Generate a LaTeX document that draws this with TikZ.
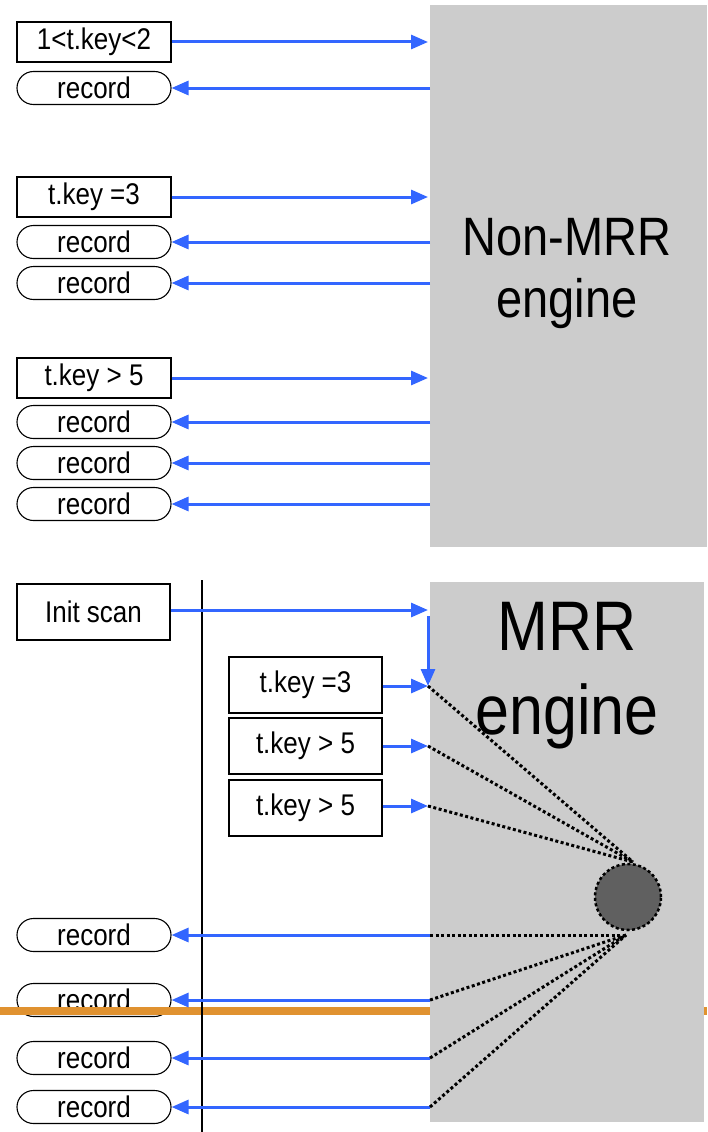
\documentclass[tikz,border=0pt]{standalone}
\usepackage{fontspec}
\setmainfont{Liberation Sans}
\usetikzlibrary{arrows.meta}
\definecolor{myblue}{RGB}{51,102,255}
\definecolor{gbox}{RGB}{204,204,204}
\definecolor{dball}{RGB}{96,96,96}
\definecolor{orng}{RGB}{224,146,48}
\newcommand{\tall}[1]{\scalebox{1}[1.15]{#1}}
\tikzset{
  lbl/.style={font=\fontsize{26}{30}\selectfont, inner sep=0pt},
  sq/.style={lbl, draw, line width=1.2pt, fill=white, minimum width=154pt, minimum height=40pt},
  sqtall/.style={sq, minimum width=153pt, minimum height=56pt},
  rec/.style={lbl, draw, line width=1.1pt, fill=white, rounded corners=16.5pt, minimum width=154pt, minimum height=33pt},
  barrow/.style={draw=myblue, line width=3pt, -{Triangle[length=17pt,width=14pt]}},
  dots/.style={draw=black, line width=3pt, dash pattern=on 3pt off 2.5pt},
  engine/.style={fill=gbox, draw=none, inner sep=0pt, anchor=north west}
}
\begin{document}
\begin{tikzpicture}[x=1pt,y=-1pt]
\useasboundingbox (0,0) rectangle (707,1132);
% gray engines
\node[engine, minimum width=277pt, minimum height=542pt] (top) at (430,5) {};
\node[font=\fontsize{47}{62}\selectfont, align=center, inner sep=0pt] (toptxt) at (567,274) {\tall{Non-MRR}\\\tall{engine}};
% ---- top part
\coordinate (ge) at (428,0);
\coordinate (gs) at (430,0);
\node[sq] (q1) at (94,42) {\tall{1<t.key<2}};
\node[rec] (r1) at (94,88) {\tall{record}};
\node[sq] (q2) at (94,197) {\tall{t.key =3}};
\node[rec] (r2) at (94,242) {\tall{record}};
\node[rec] (r3) at (94,283) {\tall{record}};
\node[sq] (q3) at (94,378) {\tall{t.key > 5}};
\node[rec] (r4) at (94,422) {\tall{record}};
\node[rec] (r5) at (94,463) {\tall{record}};
\node[rec] (r6) at (94,504) {\tall{record}};
\foreach \q in {q1,q2,q3} \draw[barrow] (\q.east) -- (\q.east -| ge);
\foreach \r in {r1,r2,r3,r4,r5,r6} \draw[barrow] (\r.east -| gs) -- (\r.east);
% ---- bottom part
\node[rec] (b1) at (94,935) {\tall{record}};
\node[rec] (b2) at (94,1000) {\tall{record}};
\node[rec] (b3) at (94,1058) {\tall{record}};
\node[rec] (b4) at (94,1107) {\tall{record}};
\fill[orng] (0,1007) rectangle (707,1015);
\node[engine, minimum width=274pt, minimum height=540pt] (bot) at (430,582) {};
\node[font=\fontsize{61}{84}\selectfont, align=center, inner sep=0pt] (bottxt) at (567,676) {\tall{MRR}\\\tall{engine}};
\draw[line width=2.5pt] (202,580) coordinate (vt) -- (202,1132) coordinate (vb);
\node[sq, minimum width=153pt, minimum height=56pt] (init) at (93.5,612) {\tall{Init scan}};
\node[sqtall] (k1) at (305.5,685) {\tall{t.key =3}};
\node[sqtall] (k2) at (305.5,746) {\tall{t.key > 5}};
\node[sqtall] (k3) at (305.5,808) {\tall{t.key > 5}};
\coordinate (iarr) at (428,610);
\coordinate (vstart) at (428,616);
\coordinate (p1) at (428,686);
\coordinate (p2) at (428,746);
\coordinate (p3) at (428,806);
\draw[barrow] (init.east |- iarr) -- (iarr);
\draw[barrow] (vstart) -- (p1);
\draw[barrow] (k1.east |- p1) -- (p1);
\draw[barrow] (k2.east |- p2) -- (p2);
\draw[barrow] (k3.east |- p3) -- (p3);
% ball
\node[circle, fill=dball, draw=black, line width=2.5pt, dash pattern=on 3pt off 2.5pt, minimum size=66pt, inner sep=0pt] (ball) at (628,897) {};
\coordinate (ctop) at (633,862);
\coordinate (cbot) at (626,935);
\foreach \p in {p1,p2,p3} \draw[dots] (\p) -- (ctop);
\foreach \b in {b1,b2,b3,b4} {
  \draw[barrow] (\b.east -| gs) -- (\b.east);
  \draw[dots] (\b.east -| gs) -- (cbot);
}
\end{tikzpicture}
\end{document}
